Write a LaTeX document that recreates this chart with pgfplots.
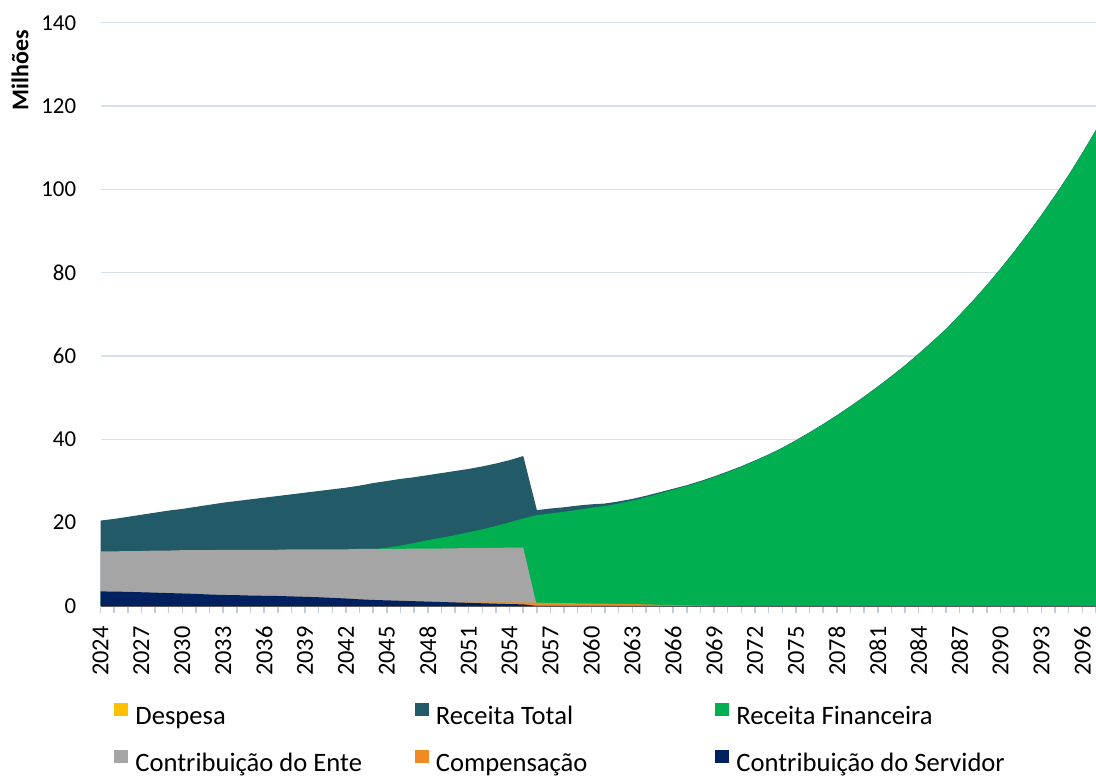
\documentclass[border=0pt]{standalone}
\usepackage{fontspec}
\setmainfont{Carlito}
\usepackage{pgfplots}
\usepackage{pgfplotstable}
\pgfplotsset{compat=1.18}
\definecolor{cdesp}{HTML}{FFC000}
\definecolor{ctotal}{HTML}{235A68}
\definecolor{cfin}{HTML}{00B050}
\definecolor{cente}{HTML}{A5A5A5}
\definecolor{ccomp}{HTML}{F08A24}
\definecolor{cserv}{HTML}{002060}
\definecolor{gridblue}{HTML}{D5DFF0}
\definecolor{axisgray}{HTML}{595959}
\definecolor{tickblue}{HTML}{C0CCE0}
\pgfplotsset{layers/mine/.define layer set={axis background,axis grid,pre main,main,axis ticks,axis lines,axis tick labels,axis descriptions,axis foreground}{}}
\pgfplotstableread{
year total fin ente comp serv desp
2024 20.5 3.5 13.1 0.40 3.50 1.2
2025 20.9 4.0 13.1 0.42 3.45 1.3
2026 21.4 4.6 13.2 0.44 3.40 1.4
2027 21.9 5.1 13.2 0.46 3.30 1.5
2028 22.4 5.7 13.3 0.48 3.20 1.6
2029 22.9 6.2 13.3 0.50 3.10 1.7
2030 23.3 6.7 13.4 0.52 3.00 1.8
2031 23.8 7.2 13.4 0.54 2.90 1.9
2032 24.3 7.8 13.4 0.56 2.75 2.0
2033 24.8 8.3 13.5 0.58 2.65 2.1
2034 25.2 8.7 13.5 0.60 2.60 2.2
2035 25.6 9.2 13.5 0.62 2.50 2.3
2036 26.0 9.6 13.5 0.64 2.45 2.4
2037 26.4 10.1 13.5 0.66 2.40 2.5
2038 26.8 10.5 13.6 0.68 2.30 2.6
2039 27.2 11.0 13.6 0.70 2.20 2.7
2040 27.6 11.5 13.6 0.72 2.10 2.8
2041 28.0 12.0 13.6 0.74 1.95 2.9
2042 28.4 12.5 13.6 0.76 1.80 3.0
2043 28.9 13.0 13.7 0.78 1.60 3.1
2044 29.5 13.6 13.7 0.80 1.45 3.2
2045 30.0 14.0 13.7 0.80 1.35 3.3
2046 30.5 14.5 13.7 0.80 1.25 3.4
2047 30.9 15.1 13.8 0.80 1.15 3.5
2048 31.4 15.8 13.8 0.80 1.05 3.6
2049 31.9 16.4 13.8 0.80 0.95 3.7
2050 32.4 17.0 13.85 0.82 0.85 3.8
2051 32.9 17.7 13.9 0.82 0.75 3.9
2052 33.5 18.4 13.9 0.84 0.65 4.0
2053 34.2 19.2 13.95 0.84 0.55 4.1
2054 35.0 20.1 14.0 0.85 0.45 4.2
2055 36.0 21.0 14.0 0.85 0.40 4.3
2056 23.0 21.8 0 0.80 0 4.4
2057 23.4 22.2 0 0.75 0 4.5
2058 23.7 22.6 0 0.70 0 4.6
2059 24.1 23.1 0 0.65 0 4.7
2060 24.4 23.6 0 0.60 0 4.8
2061 24.6 24.0 0 0.55 0 4.9
2062 25.1 24.6 0 0.50 0 5.0
2063 25.7 25.3 0 0.45 0 5.0
2064 26.45 26.1 0 0.40 0 5.0
2065 27.3 27.0 0 0.30 0 5.0
2066 28.15 27.9 0 0.25 0 5.0
2067 29.0 28.8 0 0.20 0 5.0
2068 30.0 29.8 0 0.15 0 5.0
2069 31.1 30.9 0 0.10 0 5.0
2070 32.3 32.1 0 0.08 0 5.0
2071 33.55 33.4 0 0.05 0 5.0
2072 34.95 34.8 0 0.03 0 5.0
2073 36.4 36.3 0 0.02 0 5.0
2074 38.0 37.9 0 0 0 5.0
2075 39.8 39.7 0 0 0 5.0
2076 41.7 41.6 0 0 0 5.0
2077 43.7 43.6 0 0 0 5.0
2078 45.8 45.7 0 0 0 5.0
2079 48.0 47.9 0 0 0 5.0
2080 50.3 50.2 0 0 0 5.0
2081 52.7 52.6 0 0 0 5.0
2082 55.2 55.1 0 0 0 5.0
2083 57.8 57.7 0 0 0 5.0
2084 60.6 60.5 0 0 0 5.0
2085 63.5 63.4 0 0 0 5.0
2086 66.5 66.4 0 0 0 5.0
2087 69.9 69.8 0 0 0 5.0
2088 73.4 73.3 0 0 0 5.0
2089 77.1 77.0 0 0 0 5.0
2090 81.0 80.9 0 0 0 5.0
2091 85.1 85.0 0 0 0 5.0
2092 89.4 89.3 0 0 0 5.0
2093 93.9 93.8 0 0 0 5.0
2094 98.6 98.5 0 0 0 5.0
2095 103.5 103.4 0 0 0 5.0
2096 108.8 108.7 0 0 0 5.0
2097 114.3 114.2 0 0 0 5.0
}\datatable
\begin{document}
\fontsize{13bp}{15bp}\selectfont
\begin{tikzpicture}
\begin{axis}[
  set layers=mine,
  at={(50.25bp,86bp)}, anchor=south west,
  scale only axis, width=497.75bp, height=291.65bp,
  xmin=2024, xmax=2097, ymin=0, ymax=140,
  ytick={0,20,...,140},
  xtick={2024,2027,...,2096},
  minor xtick={2024,...,2097},
  ymajorgrids, grid style={color=gridblue, line width=0.75bp},
  axis x line*=bottom, axis y line*=left,
  y axis line style={draw=none},
  x axis line style={draw=axisgray, line width=1bp, -},
  ytick style={draw=none},
  xtick style={draw=tickblue, line width=0.75bp},
  minor tick style={draw=tickblue, line width=0.75bp},
  tick align=outside, major tick length=3.5bp, minor tick length=3.5bp,
  xticklabel={\pgfmathprintnumber[assume math mode=true,1000 sep={}]{\tick}},
  yticklabel={\pgfmathprintnumber[assume math mode=true]{\tick}},
  xticklabel style={yshift=-6.5bp, rotate=90, anchor=east, inner sep=0pt, font=\fontsize{12.2bp}{14bp}\selectfont},
  yticklabel style={xshift=-8.5bp, anchor=east, inner sep=0pt, font=\fontsize{11.4bp}{13bp}\selectfont},
  ylabel={Milhões},
  ylabel style={at={(axis description cs:-0.0809,0.919)}, anchor=center, rotate=0, font=\bfseries\fontsize{12bp}{14bp}\selectfont},
  legend columns=3,
  legend cell align=left,
  legend image code/.code={\fill[#1] (0bp,0.9bp) rectangle (7bp,7.4bp);},
  legend style={at={(axis description cs:0.01356,-0.16578)}, anchor=north west, draw=none, fill=none, inner sep=0pt, column sep=3.5bp, row sep=9.3bp, nodes={inner sep=0pt, text height=10bp, text depth=3bp}, font=\fontsize{13.3bp}{15bp}\selectfont},
]
\addplot[draw=none, fill=cdesp] table[x=year, y=desp] {\datatable} \closedcycle;
\addlegendentry{\makebox[136.25bp][l]{Despesa}}
\addplot[draw=none, fill=ctotal] table[x=year, y=total] {\datatable} \closedcycle;
\addlegendentry{\makebox[136.25bp][l]{Receita Total}}
\addplot[draw=none, fill=cfin] table[x=year, y=fin] {\datatable} \closedcycle;
\addlegendentry{\makebox[136.25bp][l]{Receita Financeira}}
\addplot[draw=none, fill=cente] table[x=year, y=ente] {\datatable} \closedcycle;
\addlegendentry{\makebox[136.25bp][l]{Contribuição do Ente}}
\addplot[draw=none, fill=ccomp] table[x=year, y=comp] {\datatable} \closedcycle;
\addlegendentry{\makebox[136.25bp][l]{Compensação}}
\addplot[draw=none, fill=cserv] table[x=year, y=serv] {\datatable} \closedcycle;
\addlegendentry{\makebox[136.25bp][l]{Contribuição do Servidor}}
\end{axis}
\pgfresetboundingbox
\useasboundingbox (0,0) rectangle (548bp,389bp);
\end{tikzpicture}
\end{document}
